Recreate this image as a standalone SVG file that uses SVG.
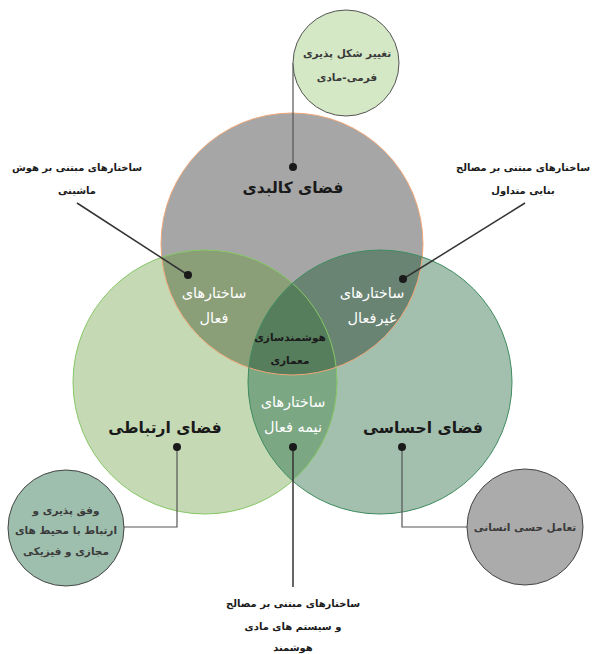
<svg xmlns="http://www.w3.org/2000/svg" width="595" height="654" viewBox="0 0 595 654">
<defs>
<style>
text{font-family:"DejaVu Sans",sans-serif;text-anchor:middle;direction:rtl;font-weight:bold}
.big{font-size:15.5px;fill:#1a1a1a}
.wht{font-size:14.5px;fill:#ffffff;font-weight:normal}
.mid{font-size:10.5px;fill:#1a1a1a}
.lbl{font-size:10px;fill:#1a1a1a}
.sml{font-size:10.5px;fill:#3a3a3a}
.ln{stroke:#333;stroke-width:1.5;fill:none}
.el{stroke:#555;stroke-width:1.2;fill:none}
.dot{fill:#1a1a1a}
</style>
<clipPath id="cT"><circle cx="292" cy="244" r="131"/></clipPath>
<clipPath id="cL"><circle cx="205" cy="382" r="132"/></clipPath>
<clipPath id="cR"><circle cx="380" cy="382" r="132"/></clipPath>
</defs>
<rect width="595" height="654" fill="#ffffff"/>
<g id="venn">
<circle cx="292" cy="244" r="131" fill="#a6a6a6"/>
<circle cx="205" cy="382" r="132" fill="#c5dab4"/>
<circle cx="380" cy="382" r="132" fill="#a3bfad"/>
<circle cx="292" cy="244" r="131" fill="#8a9e78" clip-path="url(#cL)"/>
<circle cx="292" cy="244" r="131" fill="#6a8474" clip-path="url(#cR)"/>
<circle cx="205" cy="382" r="132" fill="#7ba783" clip-path="url(#cR)"/>
<g clip-path="url(#cR)"><circle cx="292" cy="244" r="131" fill="#567d5c" clip-path="url(#cL)"/></g>
<circle cx="292" cy="244" r="131" fill="none" stroke="#f0a878" stroke-width="1"/>
<circle cx="205" cy="382" r="132" fill="none" stroke="#86c766" stroke-width="1"/>
<circle cx="380" cy="382" r="132" fill="none" stroke="#3f8c60" stroke-width="1"/>
</g>
<g id="connectors">
<line class="el" x1="293" y1="63" x2="293" y2="167"/>
<line class="ln" x1="77" y1="203" x2="188" y2="275"/>
<line class="ln" x1="525" y1="203" x2="403" y2="279"/>
<line class="ln" x1="293" y1="447" x2="293" y2="587"/>
<polyline class="el" points="177,447 177,527 124,527"/>
<polyline class="el" points="402,447 402,527 467,527"/>
<circle class="dot" cx="293" cy="167" r="4"/>
<circle class="dot" cx="188" cy="275" r="4"/>
<circle class="dot" cx="403" cy="279" r="4"/>
<circle class="dot" cx="293" cy="447" r="4"/>
<circle class="dot" cx="177" cy="447" r="4"/>
<circle class="dot" cx="402" cy="447" r="4"/>
</g>
<g id="node-kalbadi"><text class="big" x="293" y="193">فضای کالبدی</text></g>
<g id="node-ertebati"><text class="big" x="165" y="433">فضای ارتباطی</text></g>
<g id="node-ehsasi"><text class="big" x="423" y="433">فضای احساسی</text></g>
<g id="node-faal"><text class="wht" x="214" y="298">ساختارهای</text><text class="wht" x="214" y="323">فعال</text></g>
<g id="node-gheirfaal"><text class="wht" x="372" y="298">ساختارهای</text><text class="wht" x="372" y="323">غیرفعال</text></g>
<g id="node-center"><text class="mid" x="290" y="341">هوشمندسازی</text><text class="mid" x="290" y="364">معماری</text></g>
<g id="node-nimefaal"><text class="wht" x="293" y="407">ساختارهای</text><text class="wht" x="293" y="432">نیمه فعال</text></g>
<g id="node-top-small">
<circle cx="346" cy="63" r="53" fill="#d5e8c6" stroke="#555" stroke-width="1"/>
<text class="sml" x="347" y="57">تغییر شکل پذیری</text>
<text class="sml" x="347" y="81">فرمی-مادی</text>
</g>
<g id="node-left-small">
<circle cx="66" cy="528" r="58" fill="#9ebfae" stroke="#444" stroke-width="1"/>
<text class="sml" x="66" y="514">وفق پذیری و</text>
<text class="sml" x="66" y="534">ارتباط با محیط های</text>
<text class="sml" x="66" y="555">مجازی و فیزیکی</text>
</g>
<g id="node-right-small">
<circle cx="525" cy="527" r="58" fill="#ababab" stroke="#444" stroke-width="1"/>
<text class="sml" x="525" y="531">تعامل حسی انسانی</text>
</g>
<g id="label-hoosh"><text class="lbl" x="77" y="171">ساختارهای مبتنی بر هوش</text><text class="lbl" x="77" y="194">ماشینی</text></g>
<g id="label-banaei"><text class="lbl" x="523" y="171">ساختارهای مبتنی بر مصالح</text><text class="lbl" x="523" y="194">بنایی متداول</text></g>
<g id="label-hooshmand"><text class="lbl" x="293" y="607">ساختارهای مبتنی بر مصالح</text><text class="lbl" x="293" y="630">و سیستم های مادی</text><text class="lbl" x="293" y="651">هوشمند</text></g>
</svg>
